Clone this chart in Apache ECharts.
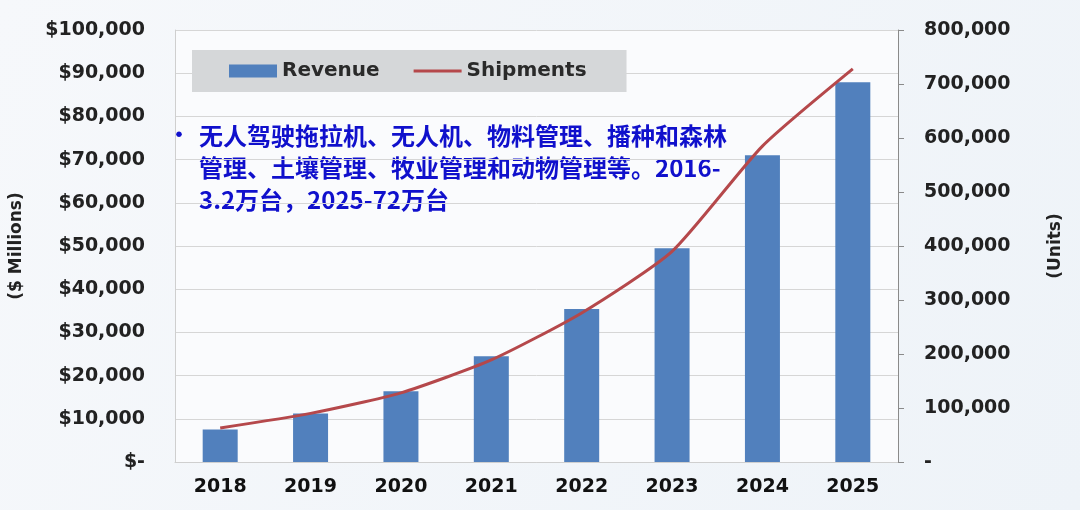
<!DOCTYPE html>
<html>
<head>
<meta charset="utf-8">
<script src="https://cdn.jsdelivr.net/npm/echarts@6/dist/echarts.min.js"></script>
<style>
  html, body { margin: 0; padding: 0; }
  #chart { width: 1080px; height: 510px; }
</style>
</head>
<body>
<div id="chart"></div>
<script>
// 数据
const years = ['2018', '2019', '2020', '2021', '2022', '2023', '2024', '2025']
const revenue = [7500, 11200, 16400, 24500, 35400, 49500, 71000, 87900]
const shipments = [63000, 90000, 128000, 189000, 276000, 390000, 585000, 728000]
const noteLines = [
  '无人驾驶拖拉机、无人机、物料管理、播种和森林',
  '管理、土壤管理、牧业管理和动物管理等。2016-',
  '3.2万台，2025-72万台'
]

const labelFont = {
  color: '#222',
  fontWeight: 'bold',
  fontSize: 19,
  fontFamily: 'DejaVu Sans'
}

const fmt = (v) => String(v).replace(/\B(?=(\d{3})+(?!\d))/g, ',')

const myChart = echarts.init(document.getElementById('chart'))
const option = {
  backgroundColor: new echarts.graphic.LinearGradient(0, 0, 1, 1, [
    { offset: 0, color: '#f6f8fb' },
    { offset: 1, color: '#eef3f8' }
  ]),
  animation: false,
  grid: {
    left: 172,
    right: 182,
    top: 30,
    bottom: 48,
    show: true,
    backgroundColor: '#fafbfd',
    borderWidth: 0
  },
  legend: {
    left: 192,
    top: 50,
    padding: [11, 40, 11, 37],
    backgroundColor: '#d5d7d9',
    itemWidth: 48,
    itemHeight: 13,
    itemGap: 34,
    textStyle: { ...labelFont, fontSize: 20, color: '#2a2a2a' },
    data: [
      { name: 'Revenue', icon: 'rect' },
      // 线形图例，上下加零面积点撑开包围盒
      { name: 'Shipments', icon: 'path://M0,0L0.01,0M0,5L48,5L48,8L0,8ZM0,13L0.01,13' }
    ]
  },
  xAxis: {
    type: 'category',
    data: years,
    axisLine: { show: true, lineStyle: { color: '#cfcfcf' } },
    axisTick: { show: false },
    axisLabel: { ...labelFont, color: '#111', margin: 16 }
  },
  yAxis: [{
    type: 'value',
    min: 0,
    max: 100000,
    interval: 10000,
    name: '($ Millions)',
    nameLocation: 'middle',
    nameGap: 150,
    nameTextStyle: { ...labelFont, fontSize: 17 },
    axisLine: { show: true, lineStyle: { color: '#cfcfcf' } },
    axisTick: { show: false },
    splitLine: { lineStyle: { color: '#d6d6d6', width: 1 } },
    axisLabel: {
      ...labelFont,
      margin: 30,
      formatter: (v) => v === 0 ? '$-' : '$' + fmt(v)
    }
  }, {
    type: 'value',
    min: 0,
    max: 800000,
    interval: 100000,
    name: '(Units)',
    nameLocation: 'middle',
    nameGap: 149,
    nameRotate: 90,
    nameTextStyle: { ...labelFont, fontSize: 17 },
    axisLine: { show: true, lineStyle: { color: '#8a8a8a' } },
    axisTick: { show: true, length: 6, lineStyle: { color: '#8a8a8a' } },
    splitLine: { show: false },
    axisLabel: {
      ...labelFont,
      margin: 26,
      formatter: (v) => v === 0 ? '-' : fmt(v)
    }
  }],
  series: [{
    name: 'Revenue',
    type: 'bar',
    data: revenue,
    barWidth: 35,
    itemStyle: { color: '#5180bd' }
  }, {
    name: 'Shipments',
    type: 'line',
    yAxisIndex: 1,
    data: shipments,
    smooth: 0.2,
    symbol: 'none',
    lineStyle: { color: '#b5484b', width: 3 },
    itemStyle: { color: '#b5484b' }
  }],
  graphic: [{
    type: 'text',
    left: 168,
    top: 123,
    style: {
      text: '•',
      fill: '#1010cc',
      font: 'bold 22px "Noto Sans CJK SC"'
    }
  }, {
    type: 'text',
    left: 199,
    top: 120,
    style: {
      text: noteLines.join('\n'),
      fill: '#1010cc',
      font: 'bold 24px "Noto Sans CJK SC"',
      lineHeight: 32
    }
  }]
}
myChart.setOption(option)
window.addEventListener('resize', () => {
  myChart.resize()
})
</script>
</body>
</html>
